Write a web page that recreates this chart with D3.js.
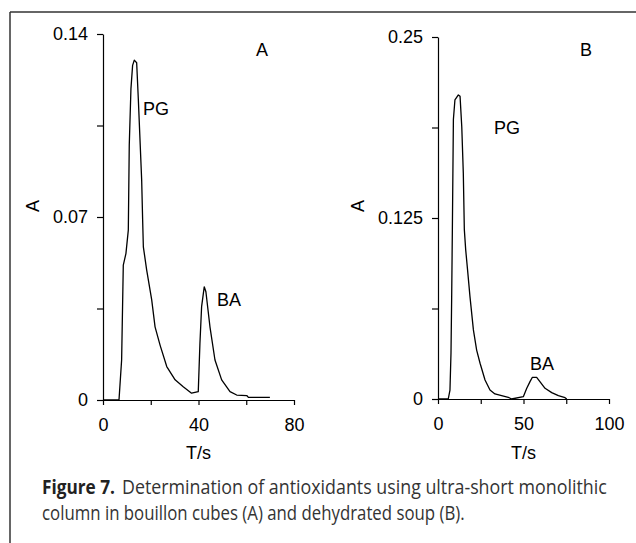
<!DOCTYPE html>
<html>
<head>
<meta charset="utf-8">
<script src="https://cdn.jsdelivr.net/npm/d3@7"></script>
<style>
  html, body { margin: 0; padding: 0; background: #fff; }
  svg { display: block; }
  .ax text { font-family: "Liberation Sans", Arial, sans-serif; font-size: 18px; fill: #000; }
  .ax path, .ax line { stroke: #000; stroke-width: 1.2; }
</style>
</head>
<body>
<svg id="chart" width="636" height="543"></svg>
<script>
// ---- Panel A data (bouillon cubes) ----
const timeA = [0, 6.7, 7.8, 8.5, 9.6, 10.6, 11.0, 11.7, 12.4, 13.1, 14.1, 14.8, 16.2, 16.6, 16.9, 18.3, 20.4, 21.8, 23.9, 26.7, 30.2, 33.6, 37.1, 39.9, 40.6, 41.3, 42.4, 43.1, 44.8, 46.9, 49.7, 53.2, 56.0, 60.2, 60.9, 69.9];
const absA  = [0, 0, 0.0153, 0.0516, 0.056, 0.065, 0.0975, 0.119, 0.128, 0.130, 0.129, 0.115, 0.084, 0.069, 0.0586, 0.0497, 0.0383, 0.028, 0.021, 0.0128, 0.0077, 0.0051, 0.0026, 0.0032, 0.0217, 0.0357, 0.0433, 0.0414, 0.028, 0.0153, 0.0077, 0.0032, 0.0019, 0.0017, 0.001, 0.001];

// ---- Panel B data (dehydrated soup) ----
const timeB = [0, 6.0, 7.0, 7.6, 8.0, 8.4, 9.0, 9.9, 11.9, 12.9, 13.9, 14.8, 15.4, 16.2, 17.3, 18.7, 20.7, 22.6, 24.6, 27.5, 30.4, 33.3, 37.2, 41.1, 43.0, 49.9, 51.9, 53.8, 55.2, 57.7, 59.6, 62.6, 66.5, 70.4, 74.3, 75.3];
const absB  = [0, 0, 0.0062, 0.0318, 0.0707, 0.117, 0.193, 0.2065, 0.21, 0.209, 0.188, 0.156, 0.117, 0.103, 0.089, 0.0707, 0.0477, 0.0338, 0.0247, 0.0131, 0.0062, 0.0035, 0.0023, 0.0012, 0, 0.0016, 0.0074, 0.012, 0.015, 0.015, 0.012, 0.0074, 0.0044, 0.0023, 0.0009, 0];

// ---- ticks ----
const yTicksA = [0, 0.035, 0.07, 0.105, 0.14];
const yLabelsA = ["0", "", "0.07", "", "0.14"];
const xTicksA = [0, 20, 40, 60, 80];
const xLabelsA = ["0", "", "40", "", "80"];
const yTicksB = [0, 0.0625, 0.125, 0.1875, 0.25];
const yLabelsB = ["0", "", "0.125", "", "0.25"];
const xTicksB = [0, 25, 50, 75, 100];
const xLabelsB = ["0", "", "50", "", "100"];

const caption1Bold = "Figure 7.";
const caption1Rest = "Determination of antioxidants using ultra-short monolithic";
const caption2 = "column in bouillon cubes (A) and dehydrated soup (B).";

const svg = d3.select("#chart");

// frame
svg.append("line").attr("x1", 10).attr("x2", 636).attr("y1", 12).attr("y2", 12)
  .attr("stroke", "#333").attr("stroke-width", 1.5);
svg.append("line").attr("x1", 10).attr("x2", 10).attr("y1", 12).attr("y2", 543)
  .attr("stroke", "#333").attr("stroke-width", 1.5);

function panel(cfg) {
  const x = d3.scaleLinear().domain(cfg.xDomain).range(cfg.xRange);
  const y = d3.scaleLinear().domain(cfg.yDomain).range(cfg.yRange);
  const g = svg.append("g");

  g.append("g").attr("class", "ax")
    .attr("transform", `translate(0,${cfg.yRange[0]})`)
    .call(d3.axisBottom(x).tickValues(cfg.xTicks).tickSize(5).tickSizeOuter(0).tickPadding(13)
      .tickFormat((d, i) => cfg.xLabels[i]));

  g.append("g").attr("class", "ax")
    .attr("transform", `translate(${cfg.xRange[0]},0)`)
    .call(d3.axisLeft(y).tickValues(cfg.yTicks).tickSize(6).tickSizeOuter(0).tickPadding(9)
      .tickFormat((d, i) => cfg.yLabels[i]));

  const line = d3.line().x((d, i) => x(cfg.t[i])).y(d => y(d));
  g.append("path").datum(cfg.a).attr("d", line)
    .attr("fill", "none").attr("stroke", "#000").attr("stroke-width", 1.3)
    .attr("stroke-linejoin", "round");

  const tf = 'font-family:"Liberation Sans", Arial, sans-serif;font-size:18px;fill:#000';
  cfg.labels.forEach(l => {
    g.append("text").attr("x", l.x).attr("y", l.y).attr("style", tf).text(l.text);
  });
  // axis titles
  g.append("text").attr("x", (cfg.xRange[0] + cfg.xRange[1]) / 2).attr("y", 459)
    .attr("text-anchor", "middle").attr("style", tf).text("T/s");
  g.append("text").attr("transform", `translate(${cfg.yTitleX},206) rotate(-90)`)
    .attr("text-anchor", "middle").attr("dominant-baseline", "central").attr("style", tf).text("A");
}

panel({
  xDomain: [0, 80], xRange: [103, 294],
  yDomain: [0, 0.14], yRange: [400, 34],
  xTicks: xTicksA, xLabels: xLabelsA, yTicks: yTicksA, yLabels: yLabelsA,
  t: timeA, a: absA, yTitleX: 33,
  labels: [{text: "A", x: 256, y: 56}, {text: "PG", x: 143, y: 115}, {text: "BA", x: 217, y: 306}]
});

panel({
  xDomain: [0, 100], xRange: [438, 609],
  yDomain: [0, 0.25], yRange: [399, 37],
  xTicks: xTicksB, xLabels: xLabelsB, yTicks: yTicksB, yLabels: yLabelsB,
  t: timeB, a: absB, yTitleX: 358,
  labels: [{text: "B", x: 580, y: 56}, {text: "PG", x: 494, y: 134}, {text: "BA", x: 530, y: 370}]
});

// caption: each piece squeezed horizontally to the width it has in the reference
const capFont = '"Open Sans", "DejaVu Sans Condensed", sans-serif';
const capSize = "19.5px";
function capText(str, x, y, w, bold) {
  const g = svg.append("g");
  const t = g.append("text").attr("x", 0).attr("y", 0)
    .style("font-family", capFont).style("font-size", capSize)
    .style("font-weight", bold ? "bold" : "normal")
    .style("fill", bold ? "#222" : "#333").text(str);
  const s = w / t.node().getComputedTextLength();
  g.attr("transform", `translate(${x},${y}) scale(${s},1)`);
}
capText(caption1Bold, 42, 494, 73, true);
capText(caption1Rest, 122, 494, 485, false);
capText(caption2, 42, 520, 423, false);
</script>
</body>
</html>
